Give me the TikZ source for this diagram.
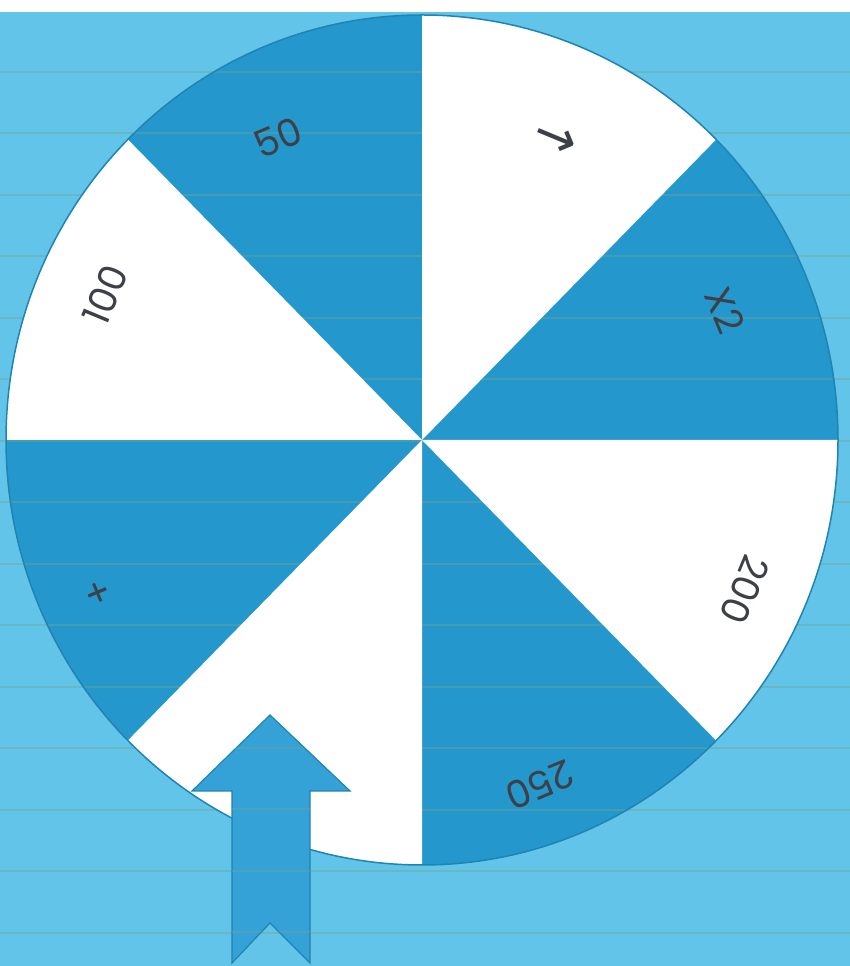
\documentclass[tikz,border=0pt]{standalone}
\usepackage{fontspec}
\setmainfont{Poppins}
\newfontfamily\arrowfont{DejaVu Sans}
\definecolor{bgblue}{RGB}{98,196,232}
\definecolor{wheelblue}{RGB}{36,152,204}
\definecolor{rimblue}{RGB}{32,132,178}
\definecolor{stripe}{RGB}{112,166,140}
\definecolor{ink}{RGB}{62,64,72}
\tikzset{
  lbl/.style={text=ink,font=\fontsize{38}{38}\selectfont,inner sep=0pt},
  pointer/.style={fill={rgb,255:red,52;green,162;blue,215},draw=rimblue,line width=1.2},
}
\begin{document}
\begin{tikzpicture}[x=1pt,y=1pt]
\useasboundingbox (0,0) rectangle (850,966);
\fill[white] (0,0) rectangle (850,966);
\fill[bgblue] (0,0) rectangle (850,954);
\coordinate (c) at (422,526);
% wheel and stripes
\fill[wheelblue] (c) ellipse [x radius=416, y radius=425];
\foreach \y in {0,...,14} \draw[stripe,opacity=0.4,line width=2] (0,894-61.5*\y) -- (850,894-61.5*\y);
\foreach \a in {45,135,225,315} \fill[white] (c) -- ++(\a:416 and 425) arc[start angle=\a, delta angle=45, x radius=416, y radius=425] -- cycle;
\draw[rimblue,line width=1.5] (c) ellipse [x radius=416, y radius=425];
% labels
\foreach \x/\y/\a/\t/\n in {725/656/22.5/X2/xtwo, 555/826/67.5/{\fontsize{52}{52}\arrowfont →}/arr, 278/828/112.5/50/fifty, 105/671/157.5/100/hundred, 100/374/202.5/+/plus, 540/181/292.5/250/twofifty, 745/376/337.5/200/twohundred}
  \node[lbl,rotate=\a-90] (\n) at (\x,\y) {\t};
% pointer
\draw[pointer] (270,251) -- (350,175) -- (310,175) -- (310,3) -- (270,43) -- (232,3) -- (232,175) -- (192,175) -- cycle;
\begin{scope}
\clip (270,251) -- (350,175) -- (310,175) -- (310,3) -- (270,43) -- (232,3) -- (232,175) -- (192,175) -- cycle;
\foreach \y in {0,...,4} \draw[stripe,opacity=0.4,line width=2] (180,218-61.5*\y) -- (360,218-61.5*\y);
\end{scope}
\end{tikzpicture}
\end{document}
